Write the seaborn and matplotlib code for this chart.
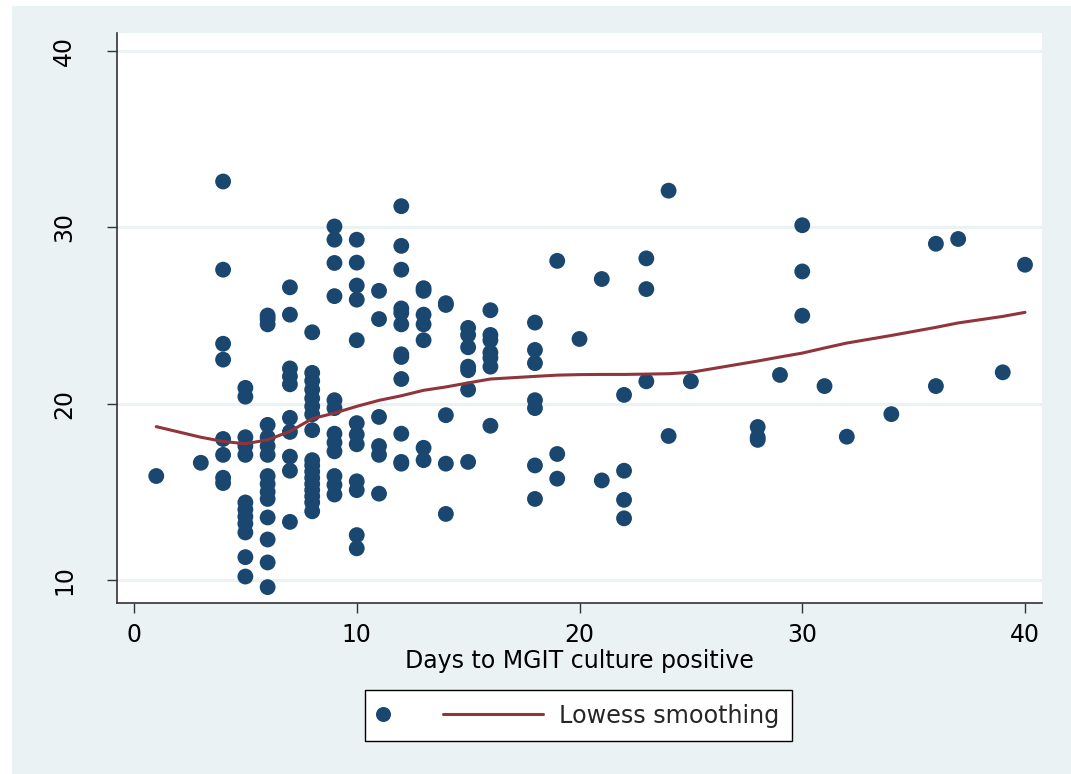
import numpy as np
import pandas as pd
import matplotlib
matplotlib.use("Agg")
import matplotlib.pyplot as plt
import seaborn as sns
from matplotlib.lines import Line2D
from matplotlib.patches import Rectangle

# days to MGIT culture positive (x) and the measured value (y), one row per day
days = ([1] + [3] + [4] * 8 + [5] * 12 + [6] * 15 + [7] * 10 + [8] * 17 + [9] * 12
        + [10] * 12 + [11] * 6 + [12] * 12 + [13] * 7 + [14] * 5 + [15] * 7 + [16] * 7
        + [18] * 7 + [19] * 3 + [20] + [21] * 2 + [22] * 4 + [23] * 3 + [24] * 2 + [25]
        + [28] * 3 + [29] + [30] * 3 + [31] + [32] + [34] + [36] * 2 + [37] + [39] + [40])
values = [
    15.9,
    16.65,
    32.6, 27.6, 23.4, 22.5, 18.0, 17.1, 15.8, 15.5,
    20.9, 20.4, 18.1, 17.6, 17.1, 14.4, 14.0, 13.6, 13.2, 12.7, 11.3, 10.2,
    25.0, 24.8, 24.5, 18.8, 18.1, 17.6, 17.1, 15.9, 15.45, 15.0, 14.6, 13.55, 12.3, 11.0, 9.6,
    26.6, 25.05, 22.0, 21.55, 21.1, 19.2, 18.4, 17.0, 16.2, 13.3,
    24.05, 21.75, 21.3, 20.8, 20.3, 19.85, 19.4, 18.5, 16.8, 16.5, 16.15, 15.8, 15.45, 15.1, 14.75, 14.4, 13.9,
    30.05, 29.3, 27.98, 26.1, 20.2, 19.75, 18.3, 17.8, 17.3, 15.9, 15.4, 14.85,
    29.3, 28.0, 26.7, 25.9, 23.6, 18.9, 18.25, 17.7, 15.6, 15.1, 12.55, 11.8,
    26.4, 24.8, 19.25, 17.6, 17.1, 14.9,
    31.2, 28.95, 27.6, 25.4, 25.15, 24.5, 22.8, 22.65, 21.4, 18.3, 16.7, 16.6,
    26.55, 26.4, 25.05, 24.5, 23.6, 17.5, 16.8,
    25.7, 25.6, 19.35, 16.6, 13.75,
    24.3, 23.9, 23.2, 22.1, 21.9, 20.8, 16.7,
    25.3, 23.9, 23.6, 22.9, 22.6, 22.1, 18.75,
    24.6, 23.05, 22.3, 20.2, 19.75, 16.5, 14.6,
    28.1, 17.15, 15.75,
    23.67,
    27.07, 15.65,
    20.5, 16.2, 14.55, 13.5,
    28.24, 26.5, 21.27,
    32.08, 18.17,
    21.27,
    18.68, 18.1, 17.95,
    21.63,
    30.12, 27.5, 24.99,
    21.0,
    18.13,
    19.41,
    29.07, 21.0,
    29.34,
    21.78,
    27.88,
]

# lowess smoothed curve, read at each distinct day
lowess_x = [1, 3, 4, 5, 6, 7, 8, 9, 10, 11, 12, 13, 14, 15, 16, 18, 19, 20, 21, 22,
            23, 24, 25, 28, 29, 30, 31, 32, 34, 36, 37, 39, 40]
lowess_y = [18.7, 18.1, 17.86, 17.73, 17.95, 18.43, 19.15, 19.47, 19.85, 20.19, 20.45,
            20.76, 20.95, 21.18, 21.4, 21.55, 21.62, 21.65, 21.66, 21.66, 21.68, 21.7,
            21.78, 22.42, 22.65, 22.87, 23.16, 23.44, 23.87, 24.33, 24.58, 24.95, 25.18]

x_ticks = [0, 10, 20, 30, 40]
y_ticks = [10, 20, 30, 40]
x_label = "Days to MGIT culture positive"
legend_label = "Lowess smoothing"

NAVY = "#1a476f"
MAROON = "#90353b"
BG = "#eaf2f3"
AXCOL = "#333333"

sns.set_theme(style="white")
plt.rcParams["font.family"] = ["DejaVu Sans"]

df = pd.DataFrame({"days": days, "value": values})
smooth = pd.DataFrame({"days": lowess_x, "value": lowess_y})

W, H = 1071, 774
fig = plt.figure(figsize=(W / 100, H / 100), dpi=100)
fig.patch.set_facecolor("white")
fig.add_artist(Rectangle((12 / W, 0), 1 - 12 / W, 1 - 6 / H, transform=fig.transFigure,
                         facecolor=BG, edgecolor="none", zorder=-10))

ax = fig.add_axes([117 / W, 1 - 603 / H, 925 / W, 570 / H])
ax.set_facecolor("white")

sns.scatterplot(data=df, x="days", y="value", ax=ax, s=130, color=NAVY,
                edgecolor="none", linewidth=0, legend=False, zorder=3)
sns.lineplot(data=smooth, x="days", y="value", ax=ax, color=MAROON, lw=2.2,
             legend=False, zorder=4)

ax.set_xlim(-0.763, 40.763)
ax.set_ylim(8.70, 41.02)
ax.set_xticks(x_ticks)
ax.set_yticks(y_ticks)
ax.set_xlabel(x_label, fontsize=17, labelpad=1, color="black")
ax.set_ylabel("")

ax.yaxis.grid(True, color=BG, lw=2.2, zorder=0)
ax.xaxis.grid(False)
ax.set_axisbelow(True)

for s in ["top", "right"]:
    ax.spines[s].set_visible(False)
for s in ["left", "bottom"]:
    ax.spines[s].set_color(AXCOL)
    ax.spines[s].set_linewidth(1.2)

ax.tick_params(axis="both", which="major", direction="out", length=7.5, width=1.0,
               color=AXCOL, labelsize=17, labelcolor="black", left=True, bottom=True)
ax.tick_params(axis="x", pad=7)
ax.tick_params(axis="y", pad=22)
for lbl in ax.get_yticklabels():
    lbl.set_rotation(90)
    lbl.set_va("center")
    lbl.set_ha("right")


class DotLineHandler:
    # Stata-like key: marker on the left, line segment on the right
    def legend_artist(self, legend, orig_handle, fontsize, handlebox):
        x0, y0 = handlebox.xdescent, handlebox.ydescent
        w, h = handlebox.width, handlebox.height
        yc = h / 2 - y0
        dot = Line2D([-x0 + 3.5], [yc], marker="o", ms=10.8, color=NAVY,
                     markeredgewidth=0, ls="none")
        seg = Line2D([-x0 + w - 72, -x0 + w], [yc, yc], color=MAROON, lw=2.2)
        handlebox.add_artist(dot)
        handlebox.add_artist(seg)
        return seg


proxy = Line2D([], [], color=MAROON, lw=2.2)
leg = fig.legend(handles=[proxy], labels=[legend_label],
                 handler_map={proxy: DotLineHandler()},
                 loc="center", bbox_to_anchor=(578.5 / W, 1 - 715.5 / H),
                 fontsize=17.2, handlelength=6.9, handletextpad=0.67, borderpad=0.55,
                 fancybox=False, framealpha=1, facecolor="white", edgecolor="black")
leg.get_frame().set_linewidth(1.0)

fig.savefig("out.png", dpi=100, facecolor=fig.get_facecolor())
